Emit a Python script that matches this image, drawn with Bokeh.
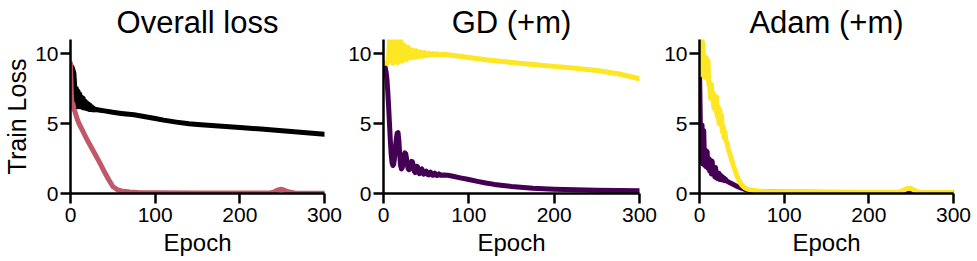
from bokeh.plotting import figure
from bokeh.layouts import row
from bokeh.models import Range1d, FixedTicker
from bokeh.embed import file_html
from bokeh.resources import INLINE

FONT = "Liberation Sans"

titles = ["Overall loss", "GD (+m)", "Adam (+m)"]
x_ticks = [0, 100, 200, 300]
y_ticks = [0, 5, 10]

C_BLACK = "#000000"
C_PINK = "#c0586a"
C_PURPLE = "#440154"
C_YELLOW = "#fde725"

# ---- Panel 1: overall loss ----
overall_gd_epoch = [0, 2, 4, 5, 6, 7, 8, 9, 10, 11, 12, 13, 14, 15, 16, 17, 18, 19, 20,
                    21, 22, 23, 24, 25, 26, 27, 28, 30, 35, 40, 50, 60, 75, 90, 100, 110,
                    125, 140, 150, 175, 200, 225, 250, 275, 300]
overall_gd_loss = [9.2, 9.0, 8.6, 7.6, 6.3, 7.5, 6.2, 7.3, 6.2, 7.1, 6.2, 6.9, 6.15, 6.8,
                   6.1, 6.6, 6.1, 6.5, 6.05, 6.4, 6.0, 6.3, 6.0, 6.2, 5.98, 6.1, 5.97, 6.0,
                   5.95, 5.9, 5.8, 5.72, 5.62, 5.47, 5.36, 5.24, 5.1, 4.98, 4.93, 4.82,
                   4.71, 4.6, 4.48, 4.36, 4.24]

overall_adam_epoch = [0, 1, 2, 3, 4, 5, 6, 8, 10, 15, 20, 25, 30, 35, 40, 45, 50, 55, 60,
                      70, 80, 100, 150, 200, 235, 240, 245, 248, 252, 258, 265, 300]
overall_adam_loss = [9.3, 7.0, 6.3, 6.4, 6.0, 5.9, 5.7, 5.3, 5.0, 4.4, 3.8, 3.25, 2.7,
                     2.15, 1.55, 1.0, 0.5, 0.28, 0.18, 0.1, 0.07, 0.05, 0.04, 0.03, 0.04,
                     0.1, 0.25, 0.3, 0.25, 0.1, 0.04, 0.02]

# ---- Panel 2: GD (+m) ----
gd_purple_epoch = list(range(0, 66)) + [67, 70, 75, 80, 90, 100, 110, 120, 130, 140, 150,
                                        175, 200, 225, 250, 275, 300]
gd_purple_loss = [9.15, 9.1, 9.0, 8.7, 8.2, 7.3, 6.2, 5.0, 3.8, 2.8,
                  2.2, 2.0, 2.1, 2.6, 3.3, 3.9, 4.3, 4.35, 3.8, 2.8,
                  2.0, 1.75, 1.85, 2.2, 2.7, 2.9, 2.85, 2.5, 2.0, 1.75,
                  1.7, 1.85, 2.1, 2.3, 2.25, 1.95, 1.6, 1.5, 1.65, 1.95,
                  1.9, 1.6, 1.42, 1.5, 1.7, 1.75, 1.55, 1.38, 1.4, 1.55,
                  1.6, 1.5, 1.35, 1.33, 1.45, 1.52, 1.45, 1.32, 1.3, 1.4,
                  1.45, 1.4, 1.3, 1.28, 1.36, 1.4,
                  1.3, 1.32, 1.3, 1.25, 1.12, 1.0, 0.87, 0.75, 0.65, 0.57, 0.5,
                  0.38, 0.31, 0.27, 0.24, 0.21, 0.19]

gd_yellow_epoch = list(range(0, 66)) + [70, 80, 90, 100, 120, 150, 175, 200, 225, 250,
                                        275, 300]
gd_yellow_loss = [9.3, 9.3, 9.3, 9.3, 9.3, 9.35, 9.7, 10.8, 11.9, 10.9,
                  9.7, 9.3, 10.0, 11.3, 11.8, 10.6, 9.5, 9.35, 10.4, 11.4,
                  11.1, 10.0, 9.45, 9.9, 10.6, 10.5, 9.9, 9.55, 10.0, 10.45,
                  10.2, 9.75, 9.7, 10.25, 10.25, 9.85, 9.72, 10.0, 10.2, 10.05,
                  9.78, 9.8, 10.05, 10.12, 9.95, 9.8, 9.82, 10.0, 10.08, 9.95,
                  9.85, 9.87, 9.98, 10.03, 9.95, 9.88, 9.9, 9.97, 10.0, 9.95,
                  9.9, 9.92, 9.96, 9.98, 9.94, 9.92,
                  9.95, 9.88, 9.8, 9.72, 9.55, 9.36, 9.22, 9.08, 8.95, 8.78, 8.55, 8.2]

# ---- Panel 3: Adam (+m) ----
adam_purple_epoch = list(range(0, 33)) + [36, 40, 44, 48, 52, 56, 60, 68, 80, 100, 150,
                                          200, 240, 246, 250, 256, 300]
adam_purple_loss = [9.0, 5.0, 2.2, 4.9, 2.1, 4.5, 2.0, 3.1, 1.9, 3.0,
                    1.8, 2.5, 1.6, 2.4, 1.4, 2.3, 1.35, 1.9, 1.2, 1.85,
                    1.1, 1.5, 1.05, 1.45, 1.0, 1.3, 0.98, 1.2, 0.95, 1.1,
                    0.92, 1.0, 0.9,
                    0.76, 0.64, 0.52, 0.42, 0.33, 0.24, 0.17, 0.12, 0.1, 0.09, 0.07,
                    0.06, 0.07, 0.15, 0.12, 0.06, 0.05]

adam_yellow_epoch = list(range(0, 33)) + [34, 36, 38, 40, 42, 44, 46, 48, 50, 53, 56, 60,
                                          65, 70, 80, 100, 150, 200, 235, 240, 245, 248,
                                          252, 256, 262, 300]
adam_yellow_loss = [11.5, 8.5, 11.3, 8.5, 10.8, 8.4, 9.8, 8.3, 9.7, 8.2,
                    9.5, 7.8, 7.9, 6.8, 7.8, 6.7, 7.2, 6.1, 7.0, 5.9,
                    6.9, 5.5, 6.2, 5.0, 6.0, 4.9, 5.6, 4.4, 4.8, 4.0,
                    4.4, 3.8, 3.7,
                    3.2, 2.8, 2.4, 2.0, 1.65, 1.3, 1.0, 0.78, 0.6, 0.43, 0.33, 0.26,
                    0.21, 0.18, 0.15, 0.12, 0.1, 0.09, 0.1, 0.2, 0.35, 0.38,
                    0.3, 0.15, 0.08, 0.07]

panels = [
    dict(title=titles[0], ylabel="Train Loss", fw=254, bl=70, br=18,
         series=[(overall_gd_epoch, overall_gd_loss, C_BLACK),
                 (overall_adam_epoch, overall_adam_loss, C_PINK)]),
    dict(title=titles[1], ylabel=None, fw=256, bl=41, br=18,
         series=[(gd_purple_epoch, gd_purple_loss, C_PURPLE),
                 (gd_yellow_epoch, gd_yellow_loss, C_YELLOW)]),
    dict(title=titles[2], ylabel=None, fw=254, bl=42, br=21,
         series=[(adam_purple_epoch, adam_purple_loss, C_PURPLE),
                 (adam_yellow_epoch, adam_yellow_loss, C_YELLOW)]),
]


def make_panel(cfg):
    p = figure(frame_width=cfg["fw"], frame_height=154,
               min_border_left=cfg["bl"], min_border_right=cfg["br"],
               min_border_top=39, min_border_bottom=68,
               x_range=Range1d(0, 300), y_range=Range1d(0, 11),
               output_backend="svg", toolbar_location=None)
    p.title.text = cfg["title"]
    p.title.text_font = FONT
    p.title.text_font_size = "31px"
    p.title.text_font_style = "normal"
    p.title.text_color = "black"
    p.title.align = "center"
    p.title.standoff = 0
    p.title.offset = 0
    p.grid.visible = False
    p.outline_line_color = None
    p.background_fill_color = "white"
    p.border_fill_color = "white"

    for (xs, ys, col) in cfg["series"]:
        assert len(xs) == len(ys)
        p.line(xs, ys, line_width=5, line_color=col, line_join="round", line_cap="round")

    p.xaxis.ticker = FixedTicker(ticks=x_ticks)
    p.yaxis.ticker = FixedTicker(ticks=y_ticks)
    for ax in (p.xaxis, p.yaxis):
        ax.axis_line_width = 2.5
        ax.axis_line_color = "black"
        ax.major_tick_line_width = 2.5
        ax.major_tick_line_color = "black"
        ax.major_tick_out = 10
        ax.major_tick_in = 0
        ax.minor_tick_out = 0
        ax.minor_tick_in = 0
        ax.major_label_text_font = FONT
        ax.major_label_text_font_size = "21px"
        ax.major_label_text_color = "black"
        ax.major_label_standoff = 2
        ax.axis_label_text_font = FONT
        ax.axis_label_text_font_style = "normal"
        ax.axis_label_text_color = "black"
    p.xaxis.axis_label = "Epoch"
    p.xaxis.axis_label_text_font_size = "24px"
    p.xaxis.major_label_standoff = 4
    p.xaxis.axis_label_standoff = 4
    if cfg["ylabel"]:
        p.yaxis.axis_label = cfg["ylabel"]
        p.yaxis.axis_label_text_font_size = "25px"
        p.yaxis.axis_label_standoff = 1
    return p


figs = [make_panel(c) for c in panels]
layout = row(*figs, spacing=0)

open("out.html", "w").write(file_html(layout, INLINE))
